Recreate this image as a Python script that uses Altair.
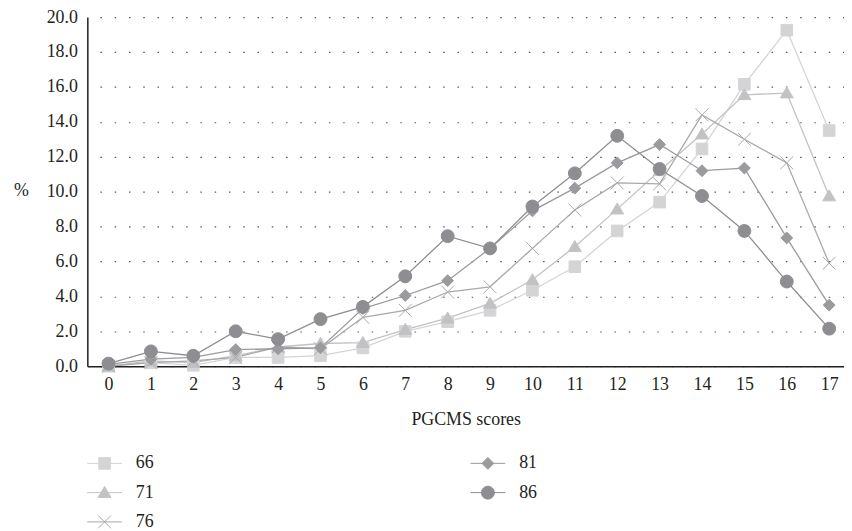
import altair as alt
import pandas as pd

# ---- data ----
scores = list(range(18))
series_names = ["66", "71", "76", "81", "86"]
s66 = [0.0, 0.2, 0.05, 0.5, 0.5, 0.6, 1.05, 2.0, 2.55, 3.2, 4.35, 5.7, 7.75, 9.4, 12.45, 16.15, 19.25, 13.5]
s71 = [0.0, 0.3, 0.2, 0.6, 1.1, 1.3, 1.35, 2.1, 2.75, 3.6, 4.95, 6.85, 9.0, 11.2, 13.3, 15.55, 15.65, 9.75]
s76 = [0.0, 0.2, 0.3, 0.5, 1.1, 1.0, 2.8, 3.2, 4.25, 4.55, 6.75, 8.95, 10.5, 10.45, 14.4, 13.0, 11.65, 5.9]
s81 = [0.1, 0.4, 0.5, 0.95, 1.0, 1.05, 3.3, 4.05, 4.9, 6.75, 8.9, 10.2, 11.65, 12.7, 11.2, 11.35, 7.35, 3.5]
s86 = [0.15, 0.85, 0.6, 2.0, 1.55, 2.7, 3.4, 5.15, 7.45, 6.75, 9.15, 11.05, 13.2, 11.3, 9.75, 7.75, 4.85, 2.15]
y_ticks = [0, 2, 4, 6, 8, 10, 12, 14, 16, 18, 20]

series_values = {"66": s66, "71": s71, "76": s76, "81": s81, "86": s86}

colors = ["#d4d4d6", "#c2c2c4", "#a9a9ac", "#9b9b9f", "#8e8e92"]
marker_paths = [
    "M-0.9,-0.9H0.9V0.9H-0.9Z",
    "M0,-0.95L1,0.75H-1Z",
    "M-1,-1L1,1M-1,1L1,-1",
    "M0,-0.92L0.92,0L0,0.92L-0.92,0Z",
    "circle",
]
legend_paths = [
    "M-1,0H1M-0.334,-0.334H0.334V0.334H-0.334Z",
    "M-1,0H1M0,-0.353L0.371,0.278H-0.371Z",
    "M-1,0H1M-0.371,-0.371L0.371,0.371M-0.371,0.371L0.371,-0.371",
    "M-1,0H1M0,-0.341L0.341,0L0,0.341L-0.341,0Z",
    "M-1,0H1M-0.371,0C-0.371,-0.2049,-0.2049,-0.371,0,-0.371C0.2049,-0.371,0.371,-0.2049,0.371,0"
    "C0.371,0.2049,0.2049,0.371,0,0.371C-0.2049,0.371,-0.371,0.2049,-0.371,0Z",
]

rows = []
for name in series_names:
    for s, v in zip(scores, series_values[name]):
        rows.append({"score": s, "pct": v, "series": name})
df = pd.DataFrame(rows)

FONT = "Liberation Serif"
TXT = "#231f20"

cscale = alt.Scale(domain=series_names, range=colors)
xscale = alt.Scale(domain=[-0.5, 17.35], nice=False, zero=False)
yscale = alt.Scale(domain=[0, 20], nice=False, zero=True)

xaxis = alt.Axis(values=scores, tickCount=30, format="d", ticks=False, grid=False, labelPadding=9,
                 title="PGCMS scores", titlePadding=18, labelFlush=False, labelOverlap=False)
yaxis = alt.Axis(values=y_ticks, tickCount=30, format=".1f", ticks=False, grid=True, labelPadding=10,
                 labelOverlap=False, labelFlush=False,
                 title="%", titleAngle=0, titleX=-67, titleY=175, titleAlign="center",
                 titleBaseline="middle", gridDash=[1.5, 12.9], gridDashOffset=1.7,
                 gridColor="#555555", gridWidth=1.2)

base = alt.Chart(df)
lines = base.mark_line(strokeWidth=1.3).encode(
    x=alt.X("score:Q", scale=xscale, axis=xaxis),
    y=alt.Y("pct:Q", scale=yscale, axis=yaxis),
    color=alt.Color("series:N", scale=cscale, legend=None),
)
points = base.mark_point(filled=True, size=169, opacity=1, strokeWidth=1).encode(
    x=alt.X("score:Q", scale=xscale, axis=xaxis),
    y=alt.Y("pct:Q", scale=yscale, axis=yaxis),
    shape=alt.Shape("series:N", scale=alt.Scale(domain=series_names, range=marker_paths), legend=None),
    fill=alt.Fill("series:N", scale=cscale, legend=None),
    stroke=alt.Stroke("series:N", scale=cscale, legend=None),
)
main = alt.layer(lines, points).properties(width=763, height=352)

legend_df = pd.DataFrame({"series": series_names, "idx": list(range(len(series_names)))})
lbase = alt.Chart(legend_df).transform_calculate(
    col="floor(datum.idx / 3)", row="datum.idx % 3"
)
lx = alt.X("col:Q", scale=alt.Scale(domain=[-0.045, 1.929], nice=False, zero=False), axis=None)
ly = alt.Y("row:Q", scale=alt.Scale(domain=[0, 2], reverse=True, nice=False, zero=False), axis=None)
lpoints = lbase.mark_point(filled=True, size=1225, opacity=1, strokeWidth=1).encode(
    x=lx, y=ly,
    shape=alt.Shape("series:N", scale=alt.Scale(domain=series_names, range=legend_paths), legend=None),
    fill=alt.Fill("series:N", scale=cscale, legend=None),
    stroke=alt.Stroke("series:N", scale=cscale, legend=None),
)
ltext = lbase.mark_text(align="left", baseline="middle", dx=31.5, fontSize=18, font=FONT, color=TXT).encode(
    x=lx, y=ly, text="series:N"
)
legend = alt.layer(lpoints, ltext).properties(width=763, height=59)

chart = (
    alt.vconcat(main, legend, spacing=26)
    .resolve_scale(x="independent", y="independent", shape="independent",
                   fill="independent", stroke="independent", color="independent")
    .properties(padding={"left": 5, "top": -2, "right": 0, "bottom": 0}, background="white")
    .configure_view(strokeWidth=0)
    .configure_axis(labelFont=FONT, titleFont=FONT, labelFontSize=18, titleFontSize=18,
                    labelColor=TXT, titleColor=TXT, titleFontWeight="normal",
                    domainColor=TXT, domainWidth=1.5)
)

chart.save("out.html", embed_options={"renderer": "svg", "actions": False})
